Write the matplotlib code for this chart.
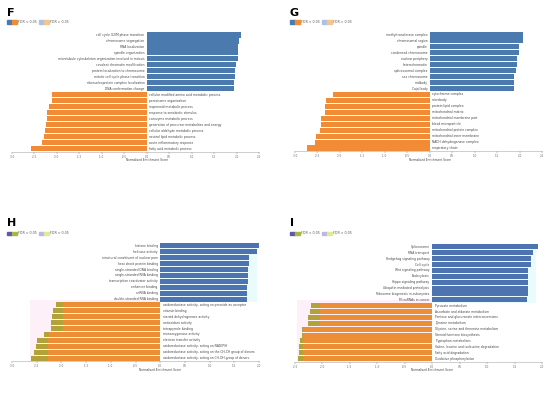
import numpy as np
import matplotlib.pyplot as plt
from matplotlib.patches import Rectangle

# ---- panel F (GO biological process)
f_pos_terms = ['cell cycle G2/M phase transition', 'chromosome segregation', 'RNA localization',
               'spindle organization', 'microtubule cytoskeleton organization involved in mitosis',
               'covalent chromatin modification', 'protein localization to chromosome',
               'mitotic cell cycle phase transition', 'ribonucleoprotein complex localization',
               'DNA conformation change']
f_pos_nes = [2.09, 2.06, 2.04, 2.04, 2.03, 1.99, 1.97, 1.97, 1.94, 1.94]
f_neg_terms = ['cellular modified amino acid metabolic process', 'peroxisome organization',
               'isoprenoid metabolic process', 'response to xenobiotic stimulus',
               'coenzyme metabolic process', 'generation of precursor metabolites and energy',
               'cellular aldehyde metabolic process', 'neutral lipid metabolic process',
               'acute inflammatory response', 'fatty acid metabolic process']
f_neg_nes = [-2.11, -2.11, -2.17, -2.21, -2.23, -2.24, -2.27, -2.28, -2.34, -2.57]

# ---- panel G (GO cellular component)
g_pos_terms = ['methyltransferase complex', 'chromosomal region', 'spindle', 'condensed chromosome',
               'nuclear periphery', 'heterochromatin', 'spliceosomal complex', 'sex chromosome',
               'midbody', 'Cajal body']
g_pos_nes = [2.07, 2.07, 1.99, 1.98, 1.94, 1.94, 1.91, 1.88, 1.87, 1.87]
g_neg_terms = ['cytochrome complex', 'microbody', 'protein lipid complex', 'mitochondrial matrix',
               'mitochondrial membrane part', 'blood microparticle', 'mitochondrial protein complex',
               'mitochondrial inner membrane', 'NADH dehydrogenase complex', 'respiratory chain']
g_neg_nes = [-2.15, -2.30, -2.33, -2.33, -2.41, -2.41, -2.44, -2.53, -2.56, -2.74]

# ---- panel H (GO molecular function)
h_pos_terms = ['histone binding', 'helicase activity', 'structural constituent of nuclear pore',
               'heat shock protein binding', 'single-stranded DNA binding',
               'single-stranded RNA binding', 'transcription coactivator activity',
               'enhancer binding', 'snRNA binding', 'double-stranded RNA binding']
h_pos_nes = [2.00, 1.96, 1.79, 1.79, 1.77, 1.77, 1.77, 1.76, 1.75, 1.75]
h_neg_terms = ['oxidoreductase activity, acting on peroxide as acceptor', 'vitamin binding',
               'steroid dehydrogenase activity', 'antioxidant activity', 'tetrapyrrole binding',
               'monooxygenase activity', 'electron transfer activity',
               'oxidoreductase activity, acting on NAD(P)H',
               'oxidoreductase activity, acting on the CH-CH group of donors',
               'oxidoreductase activity, acting on CH-OH group of donors']
h_neg_nes = [-2.11, -2.16, -2.20, -2.22, -2.22, -2.36, -2.50, -2.51, -2.55, -2.62]
h_neg_core = [-1.96, -1.96, -1.96, -1.96, -1.96, -2.26, -2.28, -2.28, -2.28, -2.28]

# ---- panel I (KEGG)
i_pos_terms = ['Spliceosome', 'RNA transport', 'Hedgehog signaling pathway', 'Cell cycle',
               'Wnt signaling pathway', 'Endocytosis', 'Hippo signaling pathway',
               'Ubiquitin mediated proteolysis', 'Ribosome biogenesis in eukaryotes',
               'MicroRNAs in cancer']
i_pos_nes = [1.93, 1.84, 1.80, 1.80, 1.74, 1.74, 1.74, 1.74, 1.74, 1.72]
i_neg_terms = ['Pyruvate metabolism', 'Ascorbate and aldarate metabolism',
               'Pentose and glucuronate interconversions', 'Tyrosine metabolism',
               'Glycine, serine and threonine metabolism', 'Steroid hormone biosynthesis',
               'Tryptophan metabolism', 'Valine, leucine and isoleucine degradation',
               'Fatty acid degradation', 'Oxidative phosphorylation']
i_neg_nes = [-2.20, -2.23, -2.26, -2.26, -2.38, -2.38, -2.41, -2.42, -2.43, -2.44]
i_neg_core = [-2.05, -2.05, -2.05, -2.05, -2.35, -2.35, -2.35, -2.35, -2.35, -2.35]

W, H = 550, 395
fig = plt.figure(figsize=(5.5, 3.95), dpi=100)


def px_axes(x0, y0, x1, y1):
    return fig.add_axes([x0 / W, 1 - y1 / H, (x1 - x0) / W, (y1 - y0) / H])


def legend(x, y, c1, c2, c3, c4):
    for k, c in enumerate([c1, c2]):
        fig.patches.append(Rectangle(((x + k * 5) / W, 1 - (y + 1.5) / H), 5 / W, 3 / H,
                                     color=c, transform=fig.transFigure))
    fig.text((x + 11) / W, 1 - y / H, 'FDR < 0.05', fontsize=2.3, va='center', color='#555555')
    for k, c in enumerate([c3, c4]):
        fig.patches.append(Rectangle(((x + 32 + k * 5) / W, 1 - (y + 1.5) / H), 5 / W, 3 / H,
                                     color=c, transform=fig.transFigure))
    fig.text((x + 43) / W, 1 - y / H, 'FDR > 0.05', fontsize=2.3, va='center', color='#555555')


def panel(rect, letter, title_xy, pos_terms, pos_nes, neg_terms, neg_nes, xlim, xticks,
          blue, orange, neg_core=None, olive=None, shade=False):
    ax = px_axes(*rect)
    n = len(pos_terms) + len(neg_terms)
    ypos = np.arange(n)
    if shade:
        ax.add_patch(Rectangle((0, -0.6), max(pos_nes) - 0.04, len(pos_terms) + 0.1,
                               color='#eafbfc', zorder=0, lw=0))
        ax.add_patch(Rectangle((min(neg_nes) - 0.02, len(pos_terms) - 0.9), -min(neg_nes) + 0.02,
                               len(neg_terms) + 0.5, color='#fdf0f8', zorder=0, lw=0))
    ax.barh(ypos[:len(pos_terms)], pos_nes, height=0.86, color=blue, zorder=2)
    if neg_core is None:
        ax.barh(ypos[len(pos_terms):], neg_nes, height=0.86, color=orange, zorder=2)
    else:
        ax.barh(ypos[len(pos_terms):], neg_nes, height=0.86, color=olive, zorder=2)
        ax.barh(ypos[len(pos_terms):], neg_core, height=0.86, color=orange, zorder=3)
    for k, t in enumerate(pos_terms):
        ax.text(-0.05, k, t, ha='right', va='center', fontsize=2.2, color='#444444')
    for k, t in enumerate(neg_terms):
        ax.text(0.05, len(pos_terms) + k, t, ha='left', va='center', fontsize=2.2, color='#444444')
    ax.set_xlim(*xlim)
    ax.set_ylim(n - 0.5, -0.5)
    ax.set_yticks([])
    ax.set_xticks(xticks)
    ax.set_xticklabels(['%.1f' % v for v in xticks])
    ax.tick_params(axis='x', labelsize=2.0, length=1.5, width=0.3, pad=0.8, colors='#666666')
    for s in ['top', 'right', 'left']:
        ax.spines[s].set_visible(False)
    ax.spines['bottom'].set_color('#aaaaaa')
    ax.spines['bottom'].set_linewidth(0.4)
    ax.set_facecolor('none')
    ax.text(0, -0.058, 'Normalized Enrichment Score', transform=ax.get_xaxis_transform(),
            ha='center', va='top', fontsize=2.1, color='#444444')
    fig.text(title_xy[0] / W, 1 - title_xy[1] / H, letter, fontsize=8, fontweight='bold',
             va='center', ha='left')
    return ax


blue1, orange1 = '#4a7aae', '#f28b36'
blue2, orange2, olive2 = '#4d74b0', '#ec8e36', '#b3a23a'
ticks_a = np.arange(-3.0, 2.51, 0.5)

panel((12, 32, 259, 151.5), 'F', (7, 13), f_pos_terms, f_pos_nes, f_neg_terms, f_neg_nes,
      (-3.0, 2.5), ticks_a, blue1, orange1)
legend(7, 22, blue1, orange1, '#a9c4e3', '#f7c48e')

panel((295, 32, 542, 151), 'G', (290, 13), g_pos_terms, g_pos_nes, g_neg_terms, g_neg_nes,
      (-3.0, 2.5), ticks_a, blue1, orange1)
legend(290, 22, blue1, orange1, '#a9c4e3', '#f7c48e')

panel((12, 243, 259, 361), 'H', (7, 223), h_pos_terms, h_pos_nes, h_neg_terms, h_neg_nes,
      (-3.0, 2.0), np.arange(-3.0, 2.01, 0.5), blue2, orange2, h_neg_core, olive2, shade=True)
legend(7, 233, '#5b5aa8', '#a8b83a', '#bdb8e3', '#e2ea98')

panel((295, 244, 542, 361.5), 'I', (290, 223), i_pos_terms, i_pos_nes, i_neg_terms, i_neg_nes,
      (-2.5, 2.0), np.arange(-2.5, 2.01, 0.5), blue2, orange2, i_neg_core, olive2, shade=True)
legend(290, 233, '#5b5aa8', '#a8b83a', '#bdb8e3', '#e2ea98')

fig.savefig('out.png', dpi=100)
